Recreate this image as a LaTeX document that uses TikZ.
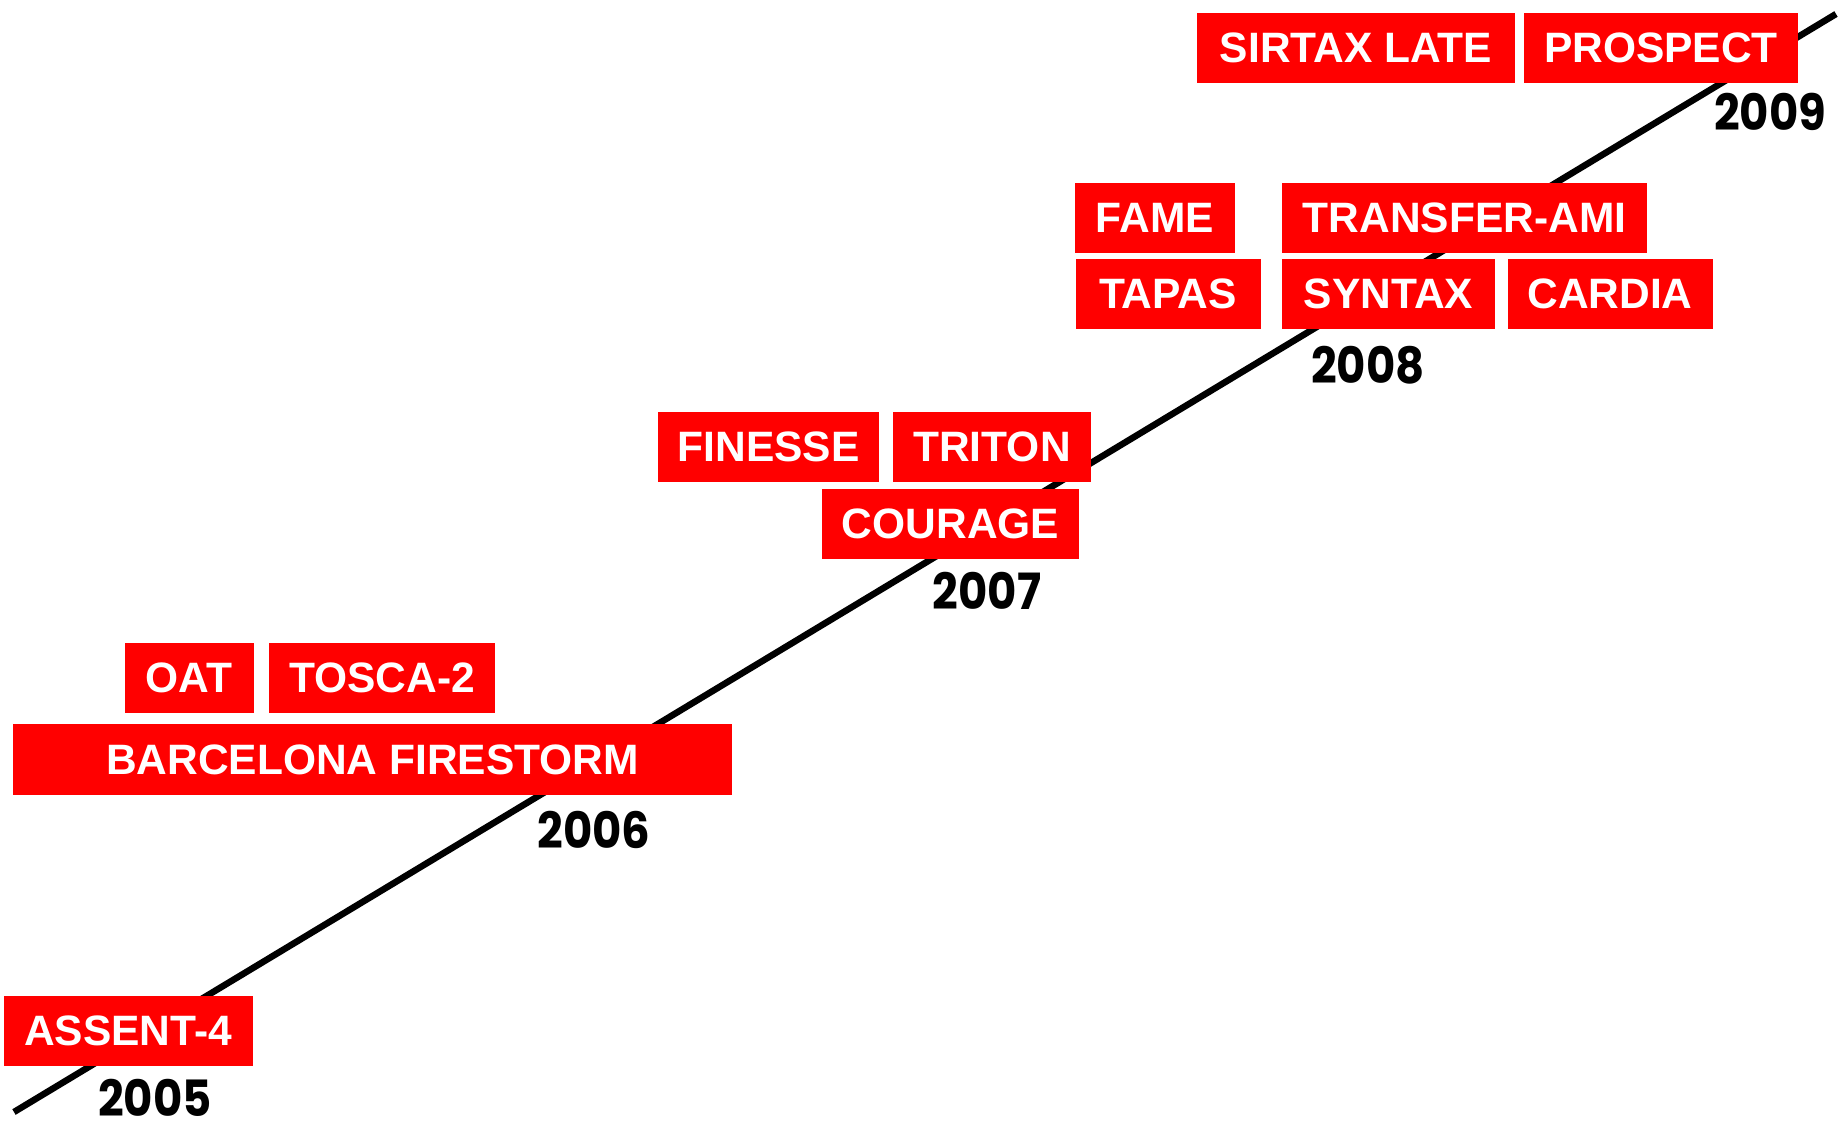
\documentclass[tikz,border=0pt]{standalone}
\usepackage{fontspec}
\setmainfont{Liberation Sans}
\newfontfamily\yearfont{Poppins}[FakeStretch=0.9]
\definecolor{boxred}{RGB}{255,0,0}
\begin{document}
\begin{tikzpicture}[x=1pt,y=-1pt,
  box/.style={fill=boxred, text=white, inner sep=0pt, minimum height=70pt,
    font=\fontsize{42.5}{46}\selectfont\bfseries},
  year/.style={text=black, inner sep=0pt, font=\yearfont\fontsize{50}{54}\selectfont\bfseries},
  timeline/.style={line width=6.5pt, black}]
\useasboundingbox (0,0) rectangle (1843,1127);
\coordinate (start) at (14,1112);
\coordinate (end) at (1836,14);
\draw[timeline] (start) -- (end);
\node[box, minimum width=249pt] (assent) at (128,1031) {ASSENT-4};
\node[box, minimum width=129pt] (oat) at (189,678) {OAT};
\node[box, minimum width=226pt] (tosca) at (382,678) {TOSCA-2};
\node[box, minimum width=719pt, minimum height=71pt] (barcelona) at (372.5,759.5) {BARCELONA FIRESTORM};
\node[box, minimum width=221pt] (finesse) at (768.5,446.5) {FINESSE};
\node[box, minimum width=198pt] (triton) at (992,446.5) {TRITON};
\node[box, minimum width=257pt] (courage) at (950.5,524) {COURAGE};
\node[box, minimum width=160pt] (fame) at (1155,217.5) {FAME};
\node[box, minimum width=365pt] (transfer) at (1464.5,217.5) {TRANSFER-AMI};
\node[box, minimum width=185pt] (tapas) at (1168,294) {TAPAS};
\node[box, minimum width=213pt] (syntax) at (1388.5,294) {SYNTAX};
\node[box, minimum width=205pt] (cardia) at (1610,294) {CARDIA};
\node[box, minimum width=318pt] (sirtax) at (1356,48) {SIRTAX LATE};
\node[box, minimum width=274pt] (prospect) at (1661,48) {PROSPECT};
\node[year] (y2005) at (155,1098) {2005};
\node[year] (y2006) at (594,830) {2006};
\node[year] (y2007) at (987,591) {2007};
\node[year] (y2008) at (1368,365.5) {2008};
\node[year] (y2009) at (1770,112) {2009};
\end{tikzpicture}
\end{document}
